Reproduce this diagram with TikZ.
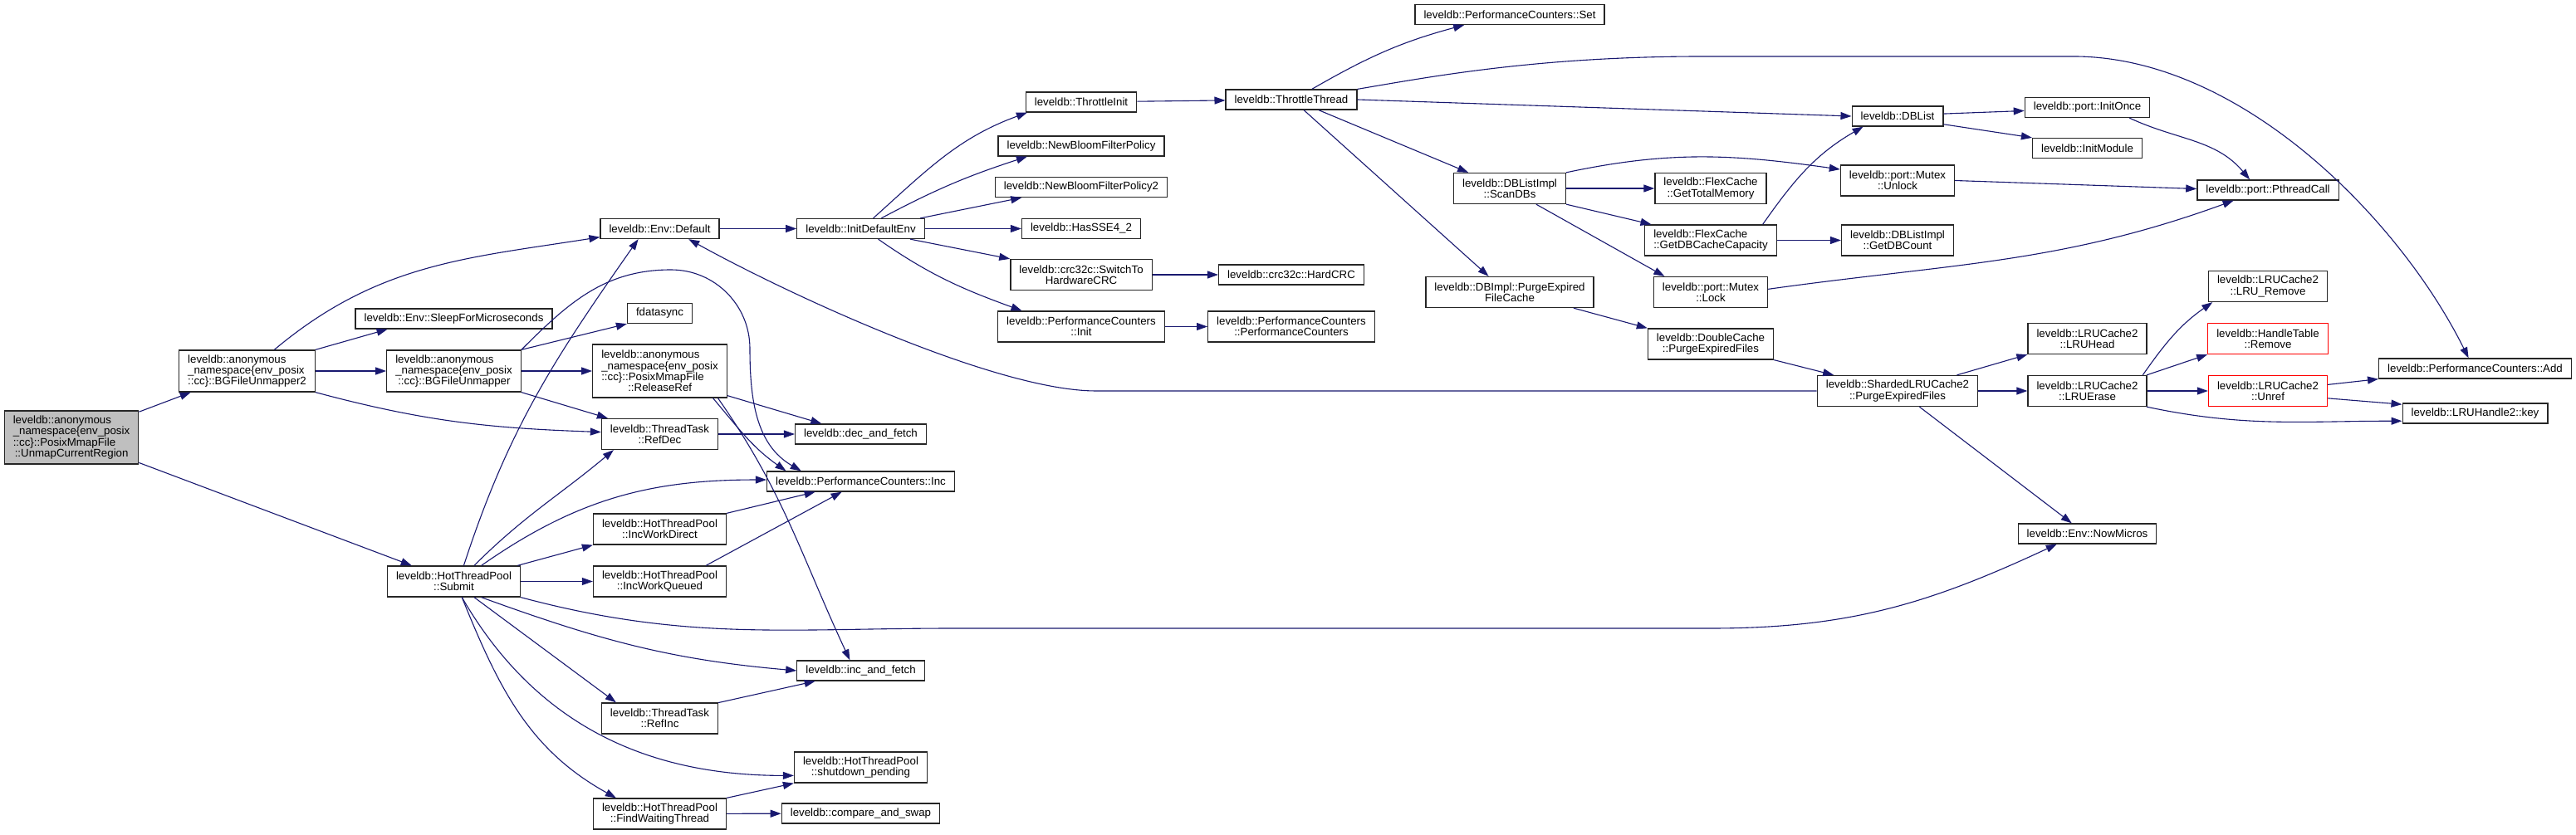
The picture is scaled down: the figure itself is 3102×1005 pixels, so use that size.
\documentclass[tikz,border=0pt]{standalone}
\usepackage{fontspec}
\setmainfont{Liberation Sans}
\usetikzlibrary{arrows.meta}
\definecolor{edgeblue}{HTML}{191970}
\definecolor{rootgray}{HTML}{BFBFBF}
\newcommand{\dotfont}{\fontsize{13.3}{13.3}\selectfont}

\begin{document}
\begin{tikzpicture}[x=1pt, y=1pt,
    func/.style={draw=black!85, line width=1.3pt, fill=white, inner xsep=10.5pt,
                 inner ysep=0pt, minimum height=24pt, align=center, font=\dotfont},
    two/.style={minimum height=37pt},
    three/.style={minimum height=50pt},
    four/.style={minimum height=64pt},
    rootfn/.style={fill=rootgray},
    undoc/.style={draw=red},
    call/.style={draw=edgeblue, line width=1.1pt, -{Triangle[length=13pt,width=9pt]}},
    every edge/.style={call}
  ]
  \useasboundingbox[fill=white] (0,0) rectangle (3102,1005);

  \node[func, four, rootfn, align=left] (UNMAP) at (86,478)
    {leveldb::anonymous\\\_namespace\{env\_posix\\::cc\}::PosixMmapFile\\\hspace*{2pt}::UnmapCurrentRegion};
  \node[func, three, align=left] (BGFU2) at (297.5,558)
    {leveldb::anonymous\\\_namespace\{env\_posix\\::cc\}::BGFileUnmapper2};
  \node[func] (SLEEP) at (546.5,621) {leveldb::Env::SleepForMicroseconds};
  \node[func, three, align=left] (BGFU) at (546.5,558)
    {leveldb::anonymous\\\_namespace\{env\_posix\\\hspace*{3pt}::cc\}::BGFileUnmapper};
  \node[func, two] (SUBMIT) at (546.5,304.5) {leveldb::HotThreadPool\\::Submit};

  \node[func] (ENVDEF) at (794.5,729.5) {leveldb::Env::Default};
  \node[func] (FDSYNC) at (794.5,627.5) {fdatasync};
  \node[func, four, align=left] (RELREF) at (794.5,558)
    {leveldb::anonymous\\\_namespace\{env\_posix\\::cc\}::PosixMmapFile\\\hspace*{32pt}::ReleaseRef};
  \node[func, two] (REFDEC) at (794.5,482) {leveldb::ThreadTask\\::RefDec};
  \node[func, two] (INCDIR) at (794.5,367.5) {leveldb::HotThreadPool\\::IncWorkDirect};
  \node[func, two] (INCQUE) at (794.5,304.5) {leveldb::HotThreadPool\\::IncWorkQueued};
  \node[func, two] (REFINC) at (794.5,139.5) {leveldb::ThreadTask\\::RefInc};
  \node[func, two] (FINDWT) at (794.5,24.5) {leveldb::HotThreadPool\\::FindWaitingThread};

  \node[func] (INITENV) at (1036.5,729.5) {leveldb::InitDefaultEnv};
  \node[func] (DECF) at (1036.5,482) {leveldb::dec\_and\_fetch};
  \node[func] (PCINC) at (1036.5,425) {leveldb::PerformanceCounters::Inc};
  \node[func] (INCF) at (1036.5,197) {leveldb::inc\_and\_fetch};
  \node[func, two] (SHUTDN) at (1036.5,80.5) {leveldb::HotThreadPool\\::shutdown\_pending};
  \node[func] (CAS) at (1036.5,25) {leveldb::compare\_and\_swap};

  \node[func] (THRINIT) at (1302,882) {leveldb::ThrottleInit};
  \node[func] (BLOOM) at (1302,829) {leveldb::NewBloomFilterPolicy};
  \node[func] (BLOOM2) at (1302,779.5) {leveldb::NewBloomFilterPolicy2};
  \node[func] (SSE42) at (1302,729.5) {leveldb::HasSSE4\_2};
  \node[func, two] (SWCRC) at (1302,674) {leveldb::crc32c::SwitchTo\\HardwareCRC};
  \node[func, two] (PCINIT) at (1302,611.5) {leveldb::PerformanceCounters\\::Init};

  \node[func] (THRTHR) at (1555,885) {leveldb::ThrottleThread};
  \node[func] (HARDCRC) at (1555,674) {leveldb::crc32c::HardCRC};
  \node[func, two] (PCCTOR) at (1555,611.5) {leveldb::PerformanceCounters\\::PerformanceCounters};

  \node[func] (PCSET) at (1818,987.5) {leveldb::PerformanceCounters::Set};
  \node[func, two] (SCANDB) at (1818,778) {leveldb::DBListImpl\\::ScanDBs};
  \node[func, two] (PURGEFC) at (1818,653) {leveldb::DBImpl::PurgeExpired\\FileCache};

  \node[func, two] (TOTMEM) at (2060,778) {leveldb::FlexCache\\::GetTotalMemory};
  \node[func, two, align=left] (DBCAP) at (2060,715.5) {leveldb::FlexCache\\::GetDBCacheCapacity};
  \node[func, two] (LOCK) at (2060,653) {leveldb::port::Mutex\\::Lock};
  \node[func, two] (DCPURGE) at (2060,590.5) {leveldb::DoubleCache\\::PurgeExpiredFiles};

  \node[func] (DBLIST) at (2285,865) {leveldb::DBList};
  \node[func, two] (UNLOCK) at (2285,787.5) {leveldb::port::Mutex\\::Unlock};
  \node[func, two] (DBCOUNT) at (2285,715.5) {leveldb::DBListImpl\\::GetDBCount};
  \node[func, two] (SHPURGE) at (2285,534) {leveldb::ShardedLRUCache2\\::PurgeExpiredFiles};

  \node[func] (INITONCE) at (2513.5,875.5) {leveldb::port::InitOnce};
  \node[func] (INITMOD) at (2513.5,826.5) {leveldb::InitModule};
  \node[func, two] (LRUHEAD) at (2513.5,597) {leveldb::LRUCache2\\::LRUHead};
  \node[func, two] (LRUERASE) at (2513.5,534) {leveldb::LRUCache2\\::LRUErase};
  \node[func] (NOWMICROS) at (2513.5,362) {leveldb::Env::NowMicros};

  \node[func] (PTHREAD) at (2731,776) {leveldb::port::PthreadCall};
  \node[func, two] (LRUREM) at (2731,660) {leveldb::LRUCache2\\::LRU\_Remove};
  \node[func, two, undoc] (HTREM) at (2731,597) {leveldb::HandleTable\\::Remove};
  \node[func, two, undoc] (UNREF) at (2731,534) {leveldb::LRUCache2\\::Unref};

  \node[func] (PCADD) at (2980.5,561) {leveldb::PerformanceCounters::Add};
  \node[func] (KEY) at (2980.5,507) {leveldb::LRUHandle2::key};

  \draw (UNMAP) edge (BGFU2) edge (SUBMIT);

  \draw (BGFU2.38) edge[out=40,in=189] (ENVDEF.188);
  \draw (BGFU2.north east) edge (SLEEP.189);
  \draw (BGFU2) edge (BGFU);
  \draw (BGFU2.south east) edge[out=-15,in=178] (REFDEC.178);

  \draw (BGFU.north east) edge (FDSYNC.south west);
  \draw (BGFU) edge (RELREF);
  \draw (BGFU.south east) edge (REFDEC.163);
  \draw[call] (BGFU.north east) to[out=45,in=180] (808,680) to[out=0,in=90] (903,585)
    to[out=-90,in=150] (PCINC.170);

  \draw (SUBMIT.58) edge[out=72,in=-125] (ENVDEF.206);
  \draw (SUBMIT.38) edge[out=45,in=-140] (REFDEC.199);
  \draw (SUBMIT.30) edge[out=35,in=180] (PCINC.179);
  \draw (SUBMIT.14) edge (INCDIR.south west);
  \draw (SUBMIT) edge (INCQUE);
  \draw (SUBMIT.-30) edge[out=-20,in=175] (INCF.west);
  \draw (SUBMIT.-38) edge (REFINC.160);
  \draw (SUBMIT.-63) edge[out=-60,in=180] (SHUTDN.187);
  \draw (SUBMIT.-63) edge[out=-68,in=151] (FINDWT.160);
  \draw[call] (SUBMIT.south east) to[out=-15,in=180] (1150,248) -- (2060,248)
    to[out=0,in=-155] (NOWMICROS.199);

  \draw (RELREF.-20) edge (DECF.165);
  \draw (RELREF.-27) edge[out=-50,in=145] (PCINC.172);
  \draw (RELREF.-25) edge[out=-55,in=115] (INCF.136);
  \draw (REFDEC) edge (DECF);
  \draw (INCDIR.north east) edge (PCINC.193);
  \draw (INCQUE.19) edge (PCINC.209);
  \draw (REFINC.15) edge (INCF.193);
  \draw (FINDWT.north east) edge (SHUTDN.south west);
  \draw (FINDWT) edge (CAS);

  \draw (ENVDEF) edge (INITENV);
  \draw (INITENV.40) edge[out=42,in=-160] (THRINIT.191);
  \draw (INITENV.27) edge[out=28,in=-162] (BLOOM.191);
  \draw (INITENV.10) edge (BLOOM2.190);
  \draw (INITENV) edge (SSE42);
  \draw (INITENV.-12) edge (SWCRC.north west);
  \draw (INITENV.-31) edge[out=-35,in=160] (PCINIT.165);
  \draw (SWCRC) edge (HARDCRC);
  \draw (PCINIT) edge (PCCTOR);
  \draw (THRINIT) edge (THRTHR);

  \draw (THRTHR.27) edge[out=30,in=-165] (PCSET.193);
  \draw[call] (THRTHR.9) .. controls (1720,912) and (1850,937) .. (2050,937) -- (2500,937)
    .. controls (2700,935) and (2890,740) .. (PCADD.122);
  \draw (THRTHR.east) edge (DBLIST.west);
  \draw (THRTHR.-21) edge (SCANDB.159);
  \draw (THRTHR.-40) edge (PURGEFC.143);

  \draw (SCANDB.north east) edge[out=12,in=172] (UNLOCK.169);
  \draw (SCANDB) edge (TOTMEM);
  \draw (SCANDB.south east) edge (DBCAP.165);
  \draw (SCANDB.-31) edge (LOCK.161);
  \draw (DBCAP.17) edge[out=55,in=-150] (DBLIST.197);
  \draw (DBCAP) edge (DBCOUNT);
  \draw (UNLOCK.east) edge (PTHREAD.179);
  \draw (LOCK.3) edge[out=8,in=-160] (PTHREAD.197);
  \draw (DBLIST.3) edge (INITONCE.183);
  \draw (DBLIST.-10) edge (INITMOD.north west);
  \draw (INITONCE.-14) edge[out=-25,in=130] (PTHREAD.150);

  \draw (PURGEFC.-14) edge (DCPURGE.north west);
  \draw (DCPURGE.south east) edge (SHPURGE.166);
  \draw (SHPURGE.15) edge (LRUHEAD.south west);
  \draw (SHPURGE) edge (LRUERASE);
  \draw (SHPURGE.-36) edge (NOWMICROS.146);
  \draw[call] (SHPURGE.west) -- (1320,534) .. controls (1200,534) and (950,650) .. (ENVDEF.-20);

  \draw (LRUERASE.16) edge[out=55,in=-145] (LRUREM.196);
  \draw (LRUERASE.15) edge (HTREM.south west);
  \draw (LRUERASE) edge (UNREF);
  \draw (LRUERASE.-15) edge[out=-12,in=180] (KEY.186);
  \draw (UNREF.6) edge (PCADD.south west);
  \draw (UNREF.-7) edge (KEY.173);
\end{tikzpicture}
\end{document}
